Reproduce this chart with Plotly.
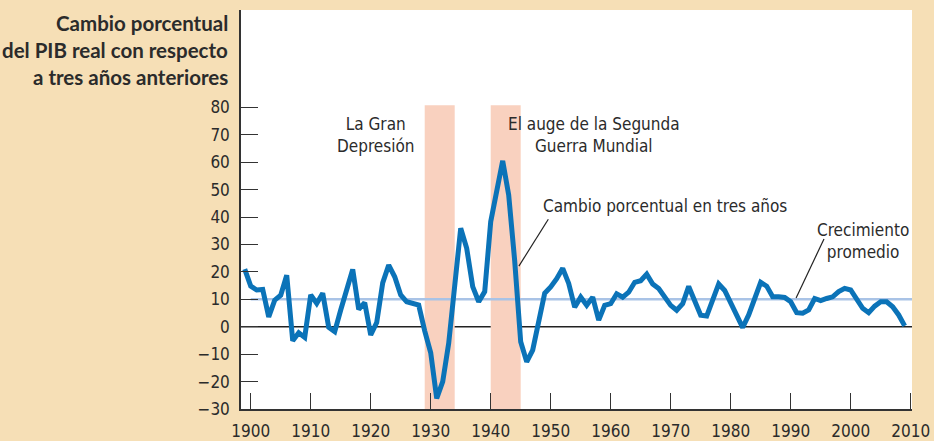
import plotly.graph_objects as go

# Three-year percentage change in real GDP, 1899-2009
years = list(range(1899, 2010))
change_3yr = [
    21.0, 14.8, 13.4, 13.6, 3.6, 9.7, 11.5, 18.8, -5.1, -2.2,      # 1899-1908
    -3.9, 11.6, 8.5, 12.2, -0.2, -1.8, 6.1, 13.6, 20.9, 6.3,       # 1909-1918
    8.8, -3.0, 1.5, 16.0, 22.5, 18.2, 11.6, 9.1, 8.3, 7.9,         # 1919-1928
    -1.5, -9.5, -26.1, -20.0, -6.0, 15.8, 35.9, 28.6, 14.6, 9.1,   # 1929-1938
    12.8, 38.3, 49.8, 60.5, 48.0, 24.0, -5.5, -12.8, -8.5, 1.0,    # 1939-1948
    12.2, 14.5, 17.5, 21.3, 15.8, 7.1, 10.8, 7.8, 10.8, 2.4,       # 1949-1958
    7.8, 8.4, 12.0, 10.8, 12.6, 16.2, 16.8, 19.2, 15.6, 13.9,      # 1959-1968
    10.8, 7.8, 6.0, 8.4, 14.7, 9.6, 4.2, 3.9, 10.2, 15.6,          # 1969-1978
    13.2, 8.4, 4.5, -0.3, 4.3, 9.7, 16.2, 14.8, 10.9, 10.9,        # 1979-1988
    10.7, 9.1, 5.1, 4.9, 6.1, 10.3, 9.5, 10.3, 10.9, 12.8,         # 1989-1998
    14.0, 13.4, 9.7, 6.7, 5.1, 7.5, 9.1, 9.1, 7.3, 4.3,            # 1999-2008
    0.3,                                                           # 2009
]
average_growth = 10

# Shaded episodes (start year, end year)
depression = (1929, 1934)
war_boom = (1940, 1945)

x_ticks = list(range(1900, 2011, 10))
y_ticks = list(range(-30, 81, 10))

FONT = "DejaVu Sans Condensed, Arial Narrow, sans-serif"
TITLE_FONT = "Lato, Roboto, sans-serif"
TXT = "#2b2b2b"
BG = "#f6dfb6"
BAND = "#f9d1bf"
BLUE = "#0b73b8"
AVG = "#a9c3e6"

x_range = [1898.38, 2010.22]
y_range = [-30, 115.5]

fig = go.Figure()

# average growth reference line
fig.add_trace(go.Scatter(
    x=[1900, x_range[1]], y=[average_growth, average_growth],
    mode="lines", line=dict(color=AVG, width=2.5),
    hoverinfo="skip", showlegend=False,
))

# three-year change series
fig.add_trace(go.Scatter(
    x=years, y=change_3yr, mode="lines",
    line=dict(color=BLUE, width=5, shape="linear"),
    showlegend=False,
))

shapes = []
for x0, x1 in (depression, war_boom):
    shapes.append(dict(type="rect", xref="x", yref="y", x0=x0, x1=x1,
                       y0=-30, y1=80.8, fillcolor=BAND, line=dict(width=0),
                       layer="below"))
# zero line
shapes.append(dict(type="line", xref="paper", yref="y", x0=0, x1=1, y0=0, y1=0,
                   line=dict(color="#222222", width=1.3), layer="below"))
# leader lines
shapes.append(dict(type="line", xref="x", yref="y", x0=1949.6, y0=39.2,
                   x1=1944.7, y1=22.1, line=dict(color="#222222", width=1.2)))
shapes.append(dict(type="line", xref="x", yref="y", x0=1995.55, y0=32.0,
                   x1=1990.9, y1=10.5, line=dict(color="#222222", width=1.2)))

annotations = [
    dict(text="La Gran<br>Depresión", x=1920.9, y=69.9, xref="x", yref="y",
         showarrow=False, xanchor="center", yanchor="middle",
         font=dict(family=FONT, size=17, color=TXT)),
    dict(text="El auge de la Segunda<br>Guerra Mundial", x=1957.2, y=69.9,
         xref="x", yref="y", showarrow=False, xanchor="center", yanchor="middle",
         font=dict(family=FONT, size=17, color=TXT)),
    dict(text="Cambio porcentual en tres años", x=1948.3, y=44.0, xref="x", yref="y",
         showarrow=False, xanchor="left", yanchor="middle",
         font=dict(family=FONT, size=17, color=TXT)),
    dict(text="Crecimiento<br>promedio", x=2001.97, y=31.2, xref="x", yref="y",
         showarrow=False, xanchor="center", yanchor="middle",
         font=dict(family=FONT, size=17, color=TXT)),
]

# multi-line y-axis title, right aligned against the axis
title_lines = ["Cambio porcentual", "del PIB real con respecto", "a tres años anteriores"]
for i, line in enumerate(title_lines):
    annotations.append(dict(
        text=f"<b>{line}</b>", xref="paper", yref="paper", x=0, xshift=-11,
        y=1 - (23 + 27 * i - 10) / 399, xanchor="right", yanchor="middle",
        showarrow=False, font=dict(family=TITLE_FONT, size=20.5, color=TXT),
    ))

fig.update_layout(
    width=934, height=441,
    margin=dict(l=241, r=22, t=10, b=32, pad=0, autoexpand=False),
    paper_bgcolor=BG, plot_bgcolor="white",
    shapes=shapes, annotations=annotations,
    xaxis=dict(range=x_range, tickvals=x_ticks, ticks="inside", ticklen=16,
               tickwidth=1.3, tickcolor="#333333", showgrid=False, zeroline=False,
               showline=True, linecolor="#333333", linewidth=1.5, automargin=False,
               tickfont=dict(family=FONT, size=17, color=TXT),
               ticklabelstandoff=6, fixedrange=True),
    yaxis=dict(range=y_range, tickvals=y_ticks, ticks="inside", ticklen=17,
               tickwidth=1.3, tickcolor="#333333", showgrid=False, zeroline=False,
               showline=True, linecolor="#333333", linewidth=1.5, automargin=False,
               tickfont=dict(family=FONT, size=17, color=TXT),
               ticklabelstandoff=6, fixedrange=True),
)

fig.write_html("out.html")
